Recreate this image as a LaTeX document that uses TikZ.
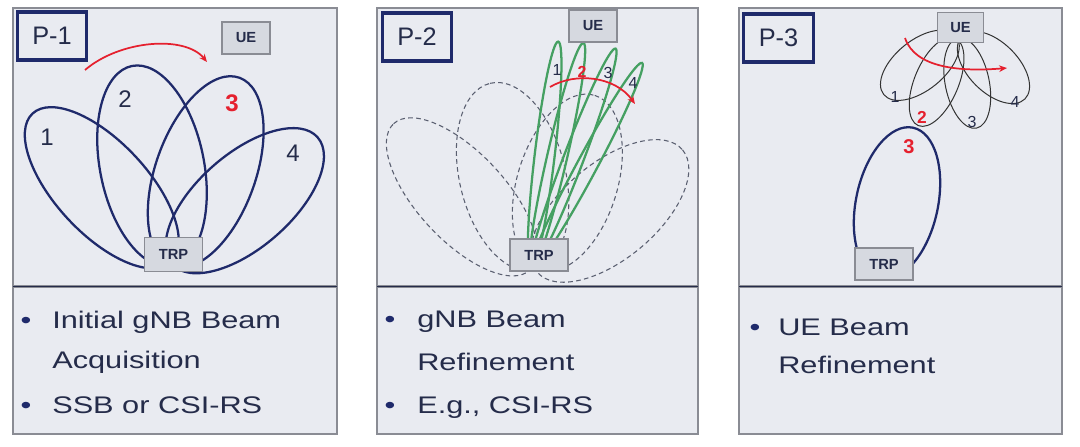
\documentclass[tikz,border=0pt]{standalone}
\usepackage{fontspec}
\setmainfont{Liberation Sans}
\newfontfamily\widefont[FakeStretch=1.28]{Liberation Sans}
\usetikzlibrary{arrows.meta}
\definecolor{panelbg}{HTML}{E9EBF1}
\definecolor{navy}{HTML}{1F2A6B}
\definecolor{txt}{HTML}{252C4A}
\definecolor{boxfill}{HTML}{D6D9E0}
\definecolor{beamred}{HTML}{E5202E}
\definecolor{beamgreen}{HTML}{45A062}
\definecolor{dashgrey}{HTML}{5A5F70}
\definecolor{frame}{HTML}{8A8C94}
\newcommand{\beam}[5][]{\draw[#1, shift={(#2)}, rotate=#3] ({#4/2},0) ellipse ({#4/2} and #5);}
\tikzset{
  panel/.style={draw=frame, line width=0.8pt, fill=panelbg},
  divider/.style={draw=txt, line width=1.4pt},
  plabel/.style={draw=navy, line width=2.4pt, fill=panelbg, inner sep=0pt, minimum width=52pt, minimum height=36pt, font=\fontsize{19}{19}\selectfont, text=txt},
  devbox/.style={draw=frame, line width=0.8pt, fill=boxfill, inner sep=0pt, font=\bfseries\fontsize{11}{11}\selectfont, text=txt},
  bigbeam/.style={draw=navy, line width=1.7pt},
  dashbeam/.style={draw=dashgrey, line width=0.8pt, dash pattern=on 3.5pt off 2.5pt},
  greenbeam/.style={draw=beamgreen, line width=1.7pt},
  thinbeam/.style={draw=black!80, line width=0.75pt},
  redarrow/.style={draw=beamred, line width=1.3pt, -{Stealth[length=6pt,width=5pt]}},
  bignum/.style={text=txt, font=\fontsize{18}{18}\selectfont, inner sep=0pt},
  smallnum/.style={text=txt, font=\fontsize{12}{12}\selectfont, inner sep=0pt},
  bodytext/.style={text=txt, font=\widefont\fontsize{18}{18}\selectfont, inner sep=0pt, anchor=base west},
  bullet/.style={text=navy, font=\widefont\fontsize{18}{18}\selectfont, inner sep=0pt, anchor=base},
}
\begin{document}
\begin{tikzpicture}[x=0.75pt, y=-0.75pt]
\useasboundingbox (0,0) rectangle (1080,446);
% ---------- panel frames ----------
\foreach \xa/\xb in {13/337, 377/698, 739/1062}{
  \draw[panel] (\xa,8) rectangle (\xb,286);
  \draw[panel] (\xa,287) rectangle (\xb,434);
  \draw[divider] (\xa,286.5) -- (\xb,286.5);
}
% ================= P-1 =================
\beam[bigbeam]{171,262}{133}{203}{46}
\beam[bigbeam]{172,266}{101.3}{204}{52}
\beam[bigbeam]{172,266}{70.3}{200}{50}
\beam[bigbeam]{172,264}{41}{193}{47}
\node[plabel] (p1) at (52,36) {P-1};
\node[devbox, minimum width=36pt, minimum height=24pt] (ue1) at (246,38) {UE};
\node[devbox, minimum width=43pt, minimum height=25pt] (trp1) at (173.5,254.5) {TRP};
\node[bignum] (n11) at (47,137) {1};
\node[bignum] (n12) at (125,99) {2};
\node[bignum, text=beamred, font=\bfseries\fontsize{18}{18}\selectfont] (n13) at (232,103) {3};
\node[bignum] (n14) at (293,153) {4};
\coordinate (a1s) at (85,70);
\coordinate (a1e) at (207,62);
\draw[redarrow] (a1s) .. controls (120,40) and (185,35) .. (a1e);
% ================= P-2 =================
\beam[dashbeam]{530,270}{133}{200}{44}
\beam[dashbeam]{535,270}{103.5}{192}{53}
\beam[dashbeam]{540,270}{72.6}{183}{50}
\beam[dashbeam]{537,272}{40}{190}{48}
\beam[greenbeam]{531,270}{83.2}{230}{10}
\beam[greenbeam]{531,270}{77}{233}{10}
\beam[greenbeam]{531,270}{69.1}{237}{10}
\beam[greenbeam]{531,270}{61.8}{235}{10}
\node[plabel] (p2) at (417,37) {P-2};
\node[devbox, minimum width=36pt, minimum height=24pt] (ue2) at (593,26) {UE};
\node[devbox, minimum width=43.5pt, minimum height=24pt] (trp2) at (539,255) {TRP};
\node[smallnum] (n21) at (557,70) {1};
\node[smallnum, text=beamred, font=\bfseries\fontsize{12}{12}\selectfont] (n22) at (582,72) {2};
\node[smallnum] (n23) at (608,73) {3};
\node[smallnum] (n24) at (633,83) {4};
\coordinate (a2s) at (550,87);
\coordinate (a2e) at (635,104);
\draw[redarrow] (a2s) .. controls (575,72) and (615,76) .. (a2e);
% ================= P-3 =================
\draw[bigbeam, shift={(897,203)}, rotate=78] (0,0) ellipse (77 and 41);
\beam[thinbeam]{956,36}{219}{93}{25}
\beam[thinbeam]{955,38}{-112.8}{95}{22}
\beam[thinbeam]{958,38}{-78.4}{92}{22}
\beam[thinbeam]{962,36}{-45}{89}{25}
\node[plabel] (p3) at (778.5,38) {P-3};
\node[devbox, minimum width=34.5pt, minimum height=23pt] (ue3) at (960.5,27.5) {UE};
\node[devbox, minimum width=43.5pt, minimum height=24pt] (trp3) at (884,264) {TRP};
\node[smallnum] (n31) at (895,97) {1};
\node[smallnum, text=beamred, font=\bfseries\fontsize{13}{13}\selectfont] (n32) at (922,117) {2};
\node[smallnum] (n33) at (972,122) {3};
\node[smallnum] (n34) at (1015,102) {4};
\node[bignum, text=beamred, font=\bfseries\fontsize{15}{15}\selectfont] (n35) at (909,147) {3};
\coordinate (a3s) at (905,38);
\coordinate (a3e) at (1007,68);
\draw[redarrow] (a3s) .. controls (915,68) and (960,72) .. (a3e);
% ================= text boxes =================
\node[bullet] (b11) at (26,328) {•};
\node[bodytext] (t11) at (52,328) {Initial gNB Beam};
\node[bodytext] (t12) at (52,368) {Acquisition};
\node[bullet] (b12) at (26,413) {•};
\node[bodytext] (t13) at (52,413) {SSB or CSI-RS};
\node[bullet] (b21) at (390,327) {•};
\node[bodytext] (t21) at (417,327) {gNB Beam};
\node[bodytext] (t22) at (417,370) {Refinement};
\node[bullet] (b22) at (390,413) {•};
\node[bodytext] (t23) at (417,413) {E.g., CSI-RS};
\node[bullet] (b31) at (755,335) {•};
\node[bodytext] (t31) at (778,335) {UE Beam};
\node[bodytext] (t32) at (778,373) {Refinement};
\end{tikzpicture}
\end{document}
